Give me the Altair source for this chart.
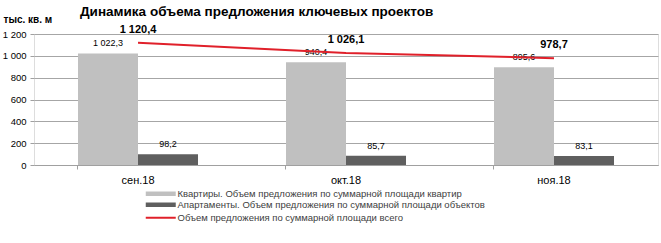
import altair as alt
import pandas as pd

months = ["сен.18", "окт.18", "ноя.18"]
flats = [1022.3, 940.4, 895.6]
apartments = [98.2, 85.7, 83.1]
total = [1120.4, 1026.1, 978.7]
y_ticks = [0, 200, 400, 600, 800, 1000, 1200]

s_flats = "Квартиры. Объем предложения по суммарной площади квартир"
s_apts = "Апартаменты. Объем предложения по суммарной площади объектов"
s_total = "Объем предложения по суммарной площади всего"

bars_df = pd.DataFrame({
    "month": months * 2,
    "series": [s_flats] * 3 + [s_apts] * 3,
    "value": flats + apartments,
})
line_df = pd.DataFrame({"month": months, "series": [s_total] * 3, "value": total})

FONT = "Liberation Sans"
fmt = "replace(replace(format(datum.value, ',.1f'), ',', ' '), '.', ',')"

x = alt.X(
    "month:N", sort=months, title=None,
    scale=alt.Scale(paddingInner=0.423, paddingOuter=0.2115),
    axis=alt.Axis(labelAngle=0, labelFontSize=11, labelColor="#000000", labelPadding=5,
                  tickSize=4, tickColor="#a0a0a0", domainColor="#a0a0a0", bandPosition=0,
                  grid=False, labelFont=FONT),
)
y = alt.Y(
    "value:Q", scale=alt.Scale(domain=[0, 1200]),
    axis=alt.Axis(values=y_ticks, labelExpr="replace(format(datum.value, ','), ',', ' ')",
                  labelFontSize=9.5, labelColor="#000000", labelPadding=4, tickSize=4,
                  tickColor="#a0a0a0", domain=False, gridColor="#a6a6a6", labelFont=FONT,
                  title="тыс. кв. м", titleAngle=0, titleX=-31, titleY=-12, titleAlign="left",
                  titleBaseline="alphabetic", titleFontSize=10, titleFontWeight="bold",
                  titleFont=FONT, titleColor="#000000"),
)
xoff = alt.XOffset("series:N", sort=[s_flats, s_apts], scale=alt.Scale(paddingInner=0, paddingOuter=0))

bars = alt.Chart(bars_df).mark_bar().encode(
    x=x, y=y, xOffset=xoff,
    fill=alt.Fill("series:N", sort=[s_flats, s_apts],
                  scale=alt.Scale(domain=[s_flats, s_apts], range=["#c0c0c0", "#5f5f5f"]),
                  legend=alt.Legend(orient="none", legendX=122, legendY=155, title=None,
                                    symbolType="M-5,-0.75H5V0.75H-5Z", symbolSize=36,
                                    symbolStrokeWidth=0, labelFontSize=9.5, labelColor="#404040",
                                    labelFont=FONT, labelOffset=12, rowPadding=0, padding=0,
                                    labelLimit=500)),
)
bar_labels = alt.Chart(bars_df).mark_text(dy=-10, fontSize=9, font=FONT, color="#000000").encode(
    x=x, y=y, xOffset=xoff, text=alt.Text("label:N"),
).transform_calculate(label=fmt)

line = alt.Chart(line_df).mark_line(strokeWidth=2).encode(
    x=x, y=y,
    stroke=alt.Stroke("series:N", scale=alt.Scale(domain=[s_total], range=["#e0202a"]),
                      legend=alt.Legend(orient="none", legendX=122, legendY=179, title=None,
                                        symbolType="M-5,0H5", symbolSize=36, symbolStrokeWidth=2,
                                        labelFontSize=9.5, labelColor="#404040", labelFont=FONT,
                                        labelOffset=12, padding=0, labelLimit=500)),
)
line_labels = alt.Chart(line_df).mark_text(dy=-13, fontSize=11, fontWeight="bold", font=FONT,
                                           color="#000000").encode(
    x=x, y=y, text=alt.Text("label:N"),
).transform_calculate(label=fmt)

chart = alt.layer(bars, bar_labels, line, line_labels).properties(
    width=624, height=131,
    padding={"left": 34, "top": 34, "right": 3, "bottom": 78},
    autosize=alt.AutoSizeParams(type="none"),
    title=alt.TitleParams("Динамика объема предложения  ключевых проектов", anchor="start",
                          frame="group", dx=46, offset=-4, fontSize=13.5, fontWeight="bold",
                          font=FONT, color="#000000"),
).resolve_scale(fill="independent", stroke="independent").configure_view(stroke=None).configure(
    background="white")

chart.save("out.html", embed_options={"renderer": "svg", "actions": False})
